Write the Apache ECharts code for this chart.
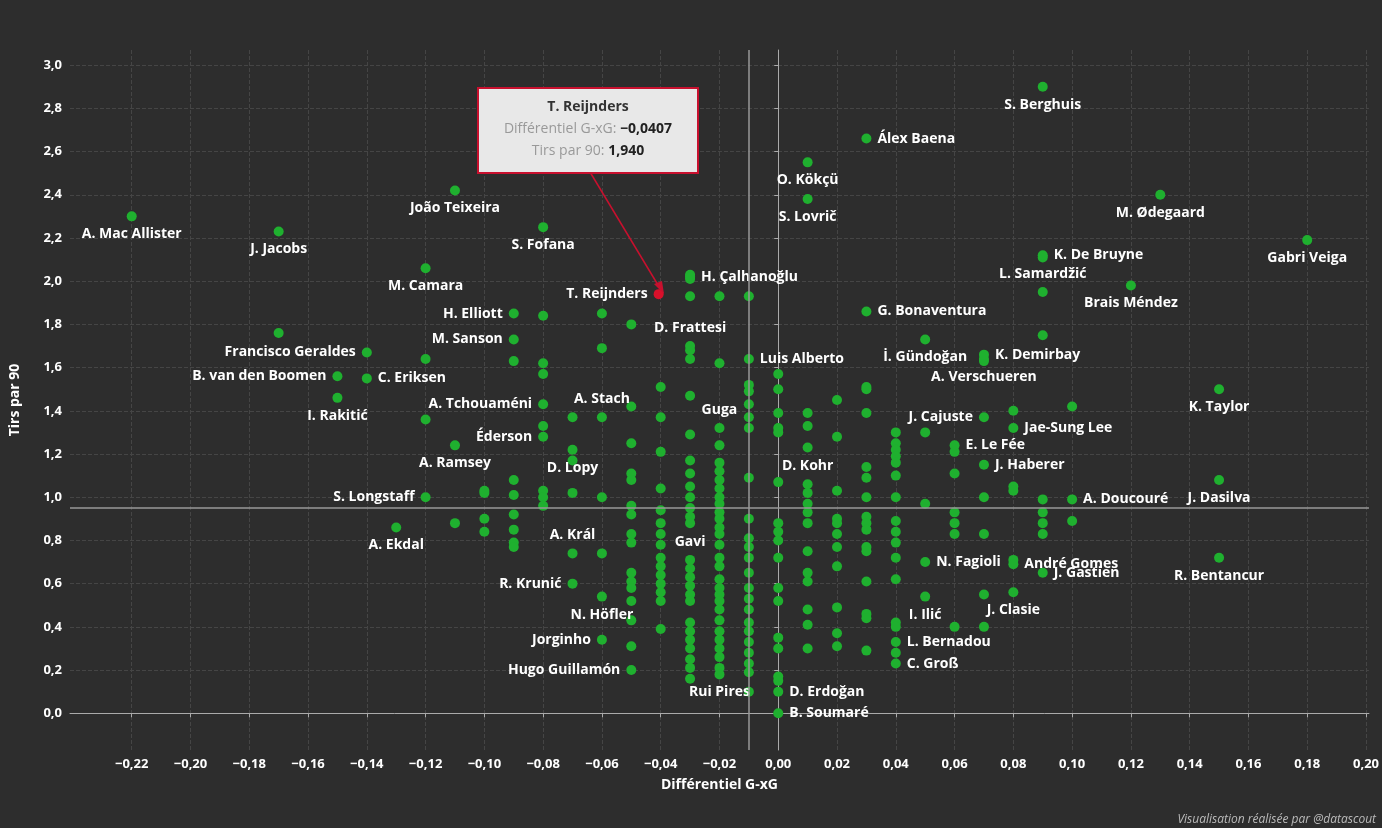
<!DOCTYPE html>
<html><head><meta charset="utf-8">
<script src="https://cdn.jsdelivr.net/npm/echarts@6/dist/echarts.min.js"></script>
<style>html,body{margin:0;padding:0;background:#2d2d2d}#c{width:1382px;height:828px}</style>
</head><body><div id="c"></div>
<script>
// Named players
const names = ["A. Mac Allister","J. Jacobs","João Teixeira","S. Fofana","M. Camara","H. Elliott","M. Sanson","Francisco Geraldes","B. van den Boomen","C. Eriksen","I. Rakitić","A. Tchouaméni","Éderson","A. Ramsey","S. Longstaff","A. Ekdal","D. Lopy","A. Král","R. Krunić","N. Höfler","Jorginho","Hugo Guillamón","A. Stach","T. Reijnders","H. Çalhanoğlu","D. Frattesi","Guga","Gavi","Rui Pires","Luis Alberto","D. Kohr","D. Erdoğan","B. Soumaré","S. Lovrič","O. Kökçü","Álex Baena","G. Bonaventura","İ. Gündoğan","A. Verschueren","J. Cajuste","E. Le Fée","J. Haberer","N. Fagioli","I. Ilić","L. Bernadou","C. Groß","J. Clasie","André Gomes","J. Gastien","K. Demirbay","Jae-Sung Lee","A. Doucouré","L. Samardžić","K. De Bruyne","S. Berghuis","M. Ødegaard","Brais Méndez","Gabri Veiga","K. Taylor","J. Dasilva","R. Bentancur"];
const nameX = [-0.22,-0.17,-0.11,-0.08,-0.12,-0.09,-0.09,-0.14,-0.15,-0.14,-0.15,-0.08,-0.08,-0.11,-0.12,-0.13,-0.07,-0.07,-0.07,-0.06,-0.06,-0.05,-0.06,-0.0407,-0.03,-0.03,-0.02,-0.03,-0.02,-0.01,0.01,0.00,0.00,0.01,0.01,0.03,0.03,0.05,0.07,0.07,0.06,0.07,0.05,0.05,0.04,0.04,0.08,0.08,0.09,0.07,0.08,0.10,0.09,0.09,0.09,0.13,0.12,0.18,0.15,0.15,0.15];
const nameY = [2.30,2.23,2.42,2.25,2.06,1.85,1.73,1.67,1.56,1.55,1.46,1.43,1.28,1.24,1.00,0.86,1.22,0.74,0.60,0.54,0.34,0.20,1.37,1.940,2.02,1.70,1.32,0.71,0.18,1.64,1.23,0.10,0.00,2.38,2.55,2.66,1.86,1.73,1.64,1.37,1.24,1.15,0.70,0.54,0.33,0.23,0.56,0.69,0.65,1.66,1.32,0.99,1.95,2.12,2.90,2.40,1.98,2.19,1.50,1.08,0.72];
// Unnamed players, by x column
const colX = [-0.17,-0.12,-0.11,-0.10,-0.09,-0.08,-0.07,-0.06,-0.05,-0.04,-0.03,-0.02,-0.01,0.00,0.01,0.02,0.03,0.04,0.05,0.06,0.07,0.08,0.09,0.10];
const colY = [
 [1.76],
 [1.64,1.36],
 [0.88],
 [1.02,1.03,0.90,0.84],
 [1.63,1.08,1.01,0.92,0.85,0.79,0.77],
 [1.84,1.62,1.57,1.33,1.03,1.00,0.96],
 [1.37,1.17,1.02],
 [1.85,1.69,1.00,0.74],
 [1.80,1.42,1.25,1.11,1.08,0.96,0.92,0.83,0.79,0.65,0.61,0.58,0.52,0.43,0.31],
 [1.51,1.37,1.21,1.04,0.94,0.88,0.83,0.78,0.72,0.68,0.64,0.60,0.56,0.52,0.39],
 [2.03,2.01,1.93,1.68,1.64,1.47,1.29,1.17,1.11,1.05,1.00,0.95,0.91,0.88,0.67,0.63,0.59,0.55,0.52,0.42,0.38,0.34,0.30,0.25,0.21,0.16],
 [1.93,1.62,1.24,1.16,1.12,1.08,1.04,1.00,0.97,0.93,0.90,0.86,0.83,0.78,0.72,0.68,0.62,0.58,0.55,0.52,0.48,0.43,0.38,0.34,0.30,0.26,0.21],
 [1.93,1.52,1.49,1.43,1.37,1.32,1.09,0.90,0.81,0.77,0.72,0.65,0.58,0.53,0.48,0.42,0.38,0.33,0.28,0.23,0.19,0.10],
 [1.57,1.50,1.39,1.32,1.30,1.07,0.88,0.84,0.80,0.72,0.58,0.52,0.35,0.30,0.17,0.15],
 [1.39,1.33,1.06,1.02,0.97,0.93,0.88,0.75,0.65,0.61,0.48,0.41,0.30],
 [1.45,1.28,1.03,0.90,0.88,0.83,0.77,0.68,0.49,0.37,0.31],
 [1.51,1.50,1.39,1.14,1.09,1.00,0.91,0.88,0.85,0.77,0.75,0.61,0.46,0.44,0.29],
 [1.30,1.25,1.22,1.19,1.16,1.10,1.00,0.89,0.84,0.79,0.72,0.62,0.42,0.40,0.28],
 [1.30,0.97],
 [1.21,1.11,0.93,0.88,0.83,0.40],
 [1.63,1.00,0.83,0.55,0.40],
 [1.40,1.05,1.03,0.71],
 [2.11,1.75,0.99,0.93,0.88,0.83],
 [1.42,0.89]
];
const xTicks = [-0.22,-0.20,-0.18,-0.16,-0.14,-0.12,-0.10,-0.08,-0.06,-0.04,-0.02,0,0.02,0.04,0.06,0.08,0.10,0.12,0.14,0.16,0.18,0.20];
const yTicks = [0,0.2,0.4,0.6,0.8,1.0,1.2,1.4,1.6,1.8,2.0,2.2,2.4,2.6,2.8,3.0];
const refX = -0.01, refY = 0.95;

const labelPos = {"A. Mac Allister":"bottom","J. Jacobs":"bottom","João Teixeira":"bottom","S. Fofana":"bottom","M. Camara":"bottom","A. Ramsey":"bottom","A. Ekdal":"bottom","I. Rakitić":"bottom","D. Lopy":"bottom","A. Král":"top","N. Höfler":"bottom","A. Stach":"top","D. Frattesi":"top","Guga":"top","Gavi":"top","Rui Pires":"bottom","D. Kohr":"bottom","S. Lovrič":"bottom","O. Kökçü":"bottom","İ. Gündoğan":"bottom","A. Verschueren":"bottom","I. Ilić":"bottom","J. Clasie":"bottom","L. Samardžić":"top","S. Berghuis":"bottom","M. Ødegaard":"bottom","Brais Méndez":"bottom","Gabri Veiga":"bottom","K. Taylor":"bottom","J. Dasilva":"bottom","R. Bentancur":"bottom","C. Eriksen":"right","H. Çalhanoğlu":"right","Luis Alberto":"right","D. Erdoğan":"right","B. Soumaré":"right","Álex Baena":"right","G. Bonaventura":"right","E. Le Fée":"right","J. Haberer":"right","N. Fagioli":"right","L. Bernadou":"right","C. Groß":"right","André Gomes":"right","J. Gastien":"right","K. Demirbay":"right","Jae-Sung Lee":"right","A. Doucouré":"right","K. De Bruyne":"right"};

const green = '#1fb02f';
const plain = [];
colX.forEach((x,i)=>colY[i].forEach(y=>plain.push([x,y])));
const named = names.map((n,i)=>({name:n,value:[nameX[i],nameY[i]],
  itemStyle:{color: n==="T. Reijnders" ? '#d8102a' : green},
  label:{position: labelPos[n]||'left'}}));
const fmt = v => (Math.round(v*100)/100).toFixed(2).replace('.',',').replace('-','−');
const fmtY = v => v.toFixed(1).replace('.',',');

const chart = echarts.init(document.getElementById('c'));
chart.setOption({
  backgroundColor:'#2d2d2d',
  animation:false,
  textStyle:{fontFamily:'Open Sans'},
  grid:{left:68,right:2,top:50,bottom:78},
  xAxis:{type:'value',min:-0.241,max:0.201,
    name:'Différentiel G-xG',nameLocation:'middle',nameGap:28,
    nameTextStyle:{color:'#ffffff',fontWeight:'bold',fontSize:14},
    axisLine:{show:true,lineStyle:{color:'#aaa'}},
    axisTick:{show:true,customValues:xTicks,length:4,lineStyle:{color:'#aaa'}},
    axisLabel:{customValues:xTicks,color:'#ffffff',fontWeight:'bold',fontSize:13,formatter:fmt},
    splitLine:{show:true,lineStyle:{color:'#454545',type:'dashed'}}},
  yAxis:{type:'value',min:-0.17,max:3.07,
    name:'Tirs par 90',nameLocation:'middle',nameGap:48,
    nameTextStyle:{color:'#ffffff',fontWeight:'bold',fontSize:14},
    axisLine:{show:true,lineStyle:{color:'#aaa'}},
    axisTick:{show:true,customValues:yTicks,length:4,lineStyle:{color:'#aaa'}},
    axisLabel:{customValues:yTicks,color:'#ffffff',fontWeight:'bold',fontSize:13,formatter:fmtY},
    splitLine:{show:true,lineStyle:{color:'#454545',type:'dashed'}}},
  series:[
    {type:'scatter',data:plain,symbolSize:10,itemStyle:{color:green,opacity:1},
     markLine:{silent:true,symbol:'none',label:{show:false},lineStyle:{color:'#999',type:'solid',width:1.5},
       data:[{xAxis:refX},{yAxis:refY}]}},
    {type:'scatter',data:named,symbolSize:10,itemStyle:{opacity:1},
     label:{show:true,formatter:p=>p.name,color:'#ffffff',fontWeight:'bold',fontSize:14,distance:6},
     labelLayout:{hideOverlap:false}}
  ],
  graphic:[
    {type:'line',z:100,shape:{x1:590,y1:172,x2:661,y2:290},style:{stroke:'#c8102e',lineWidth:1.5}},
    {type:'polygon',z:100,shape:{points:[[664,294],[654,284],[662,281]]},style:{fill:'#c8102e'}},
    {type:'rect',z:100,shape:{x:478,y:88,width:220,height:85},style:{fill:'#e8e8e8',stroke:'#c8102e',lineWidth:2}},
    {type:'text',z:101,x:588,y:100,style:{text:'T. Reijnders',textAlign:'center',fill:'#333',font:'bold 14px "Open Sans"'}},
    {type:'text',z:101,x:588,y:122,style:{text:'{a|Différentiel G-xG: }{b|−0,0407}',textAlign:'center',
      rich:{a:{fill:'#999',font:'14px "Open Sans"'},b:{fill:'#222',font:'bold 14px "Open Sans"'}}}},
    {type:'text',z:101,x:588,y:144,style:{text:'{a|Tirs par 90: }{b|1,940}',textAlign:'center',
      rich:{a:{fill:'#999',font:'14px "Open Sans"'},b:{fill:'#222',font:'bold 14px "Open Sans"'}}}},
    {type:'text',z:101,right:6,bottom:2,style:{text:'Visualisation réalisée par @datascout',fill:'#bbb',font:'italic 12px "Open Sans"'}}
  ]
});
</script></body></html>
